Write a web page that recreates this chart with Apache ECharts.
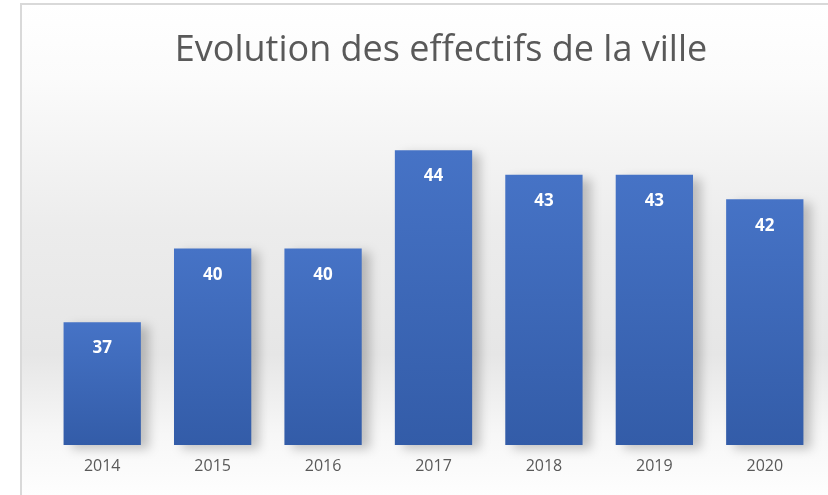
<!DOCTYPE html>
<html>
<head>
<meta charset="utf-8">
<script src="https://cdn.jsdelivr.net/npm/echarts@6/dist/echarts.min.js"></script>
<style>
html,body{margin:0;padding:0;background:#fff;}
#c{width:828px;height:495px;}
</style>
</head>
<body>
<div id="c"></div>
<script>
const titleText = "Evolution des effectifs de la ville";
const categories = ["2014","2015","2016","2017","2018","2019","2020"];
const values = [37,40,40,44,43,43,42];

const chart = echarts.init(document.getElementById('c'), null, {renderer:'canvas'});
chart.setOption({
  animation:false,
  backgroundColor:'#ffffff',
  graphic:[{
    type:'rect', z:-10, silent:true,
    shape:{x:21,y:4,width:820,height:500},
    style:{
      fill:new echarts.graphic.LinearGradient(0,0,0,1,[
        {offset:0,color:'#ffffff'},
        {offset:0.15,color:'#fbfbfb'},
        {offset:0.45,color:'#ececec'},
        {offset:0.7,color:'#e6e6e6'},
        {offset:0.86,color:'#f7f7f7'},
        {offset:1,color:'#ffffff'}
      ]),
      stroke:'#d9d9d9', lineWidth:2
    }
  }],
  title:{
    text:titleText, left:436, top:28, textAlign:'center',
    textStyle:{fontFamily:'Open Sans', fontWeight:'normal', fontSize:36, color:'#595959'}
  },
  grid:{left:47, right:8, top:101, bottom:50},
  xAxis:{
    type:'category', data:categories,
    axisLine:{show:false}, axisTick:{show:false},
    axisLabel:{color:'#595959', fontFamily:'Open Sans', fontSize:16, margin:13}
  },
  yAxis:{
    type:'value', min:32, max:46, interval:2, show:false,
    splitLine:{show:false}
  },
  series:[{
    type:'bar', data:values, barCategoryGap:'30%',
    itemStyle:{
      color:new echarts.graphic.LinearGradient(0,0,0,1,[
        {offset:0,color:'#4673c6'},
        {offset:1,color:'#335ca8'}
      ]),
      shadowColor:'rgba(0,0,0,0.22)', shadowBlur:10, shadowOffsetX:8, shadowOffsetY:4
    },
    label:{
      show:true, position:'insideTop', distance:18,
      color:'#ffffff', fontWeight:'bold', fontSize:17, fontFamily:'Open Sans'
    }
  }]
});
</script>
</body>
</html>
